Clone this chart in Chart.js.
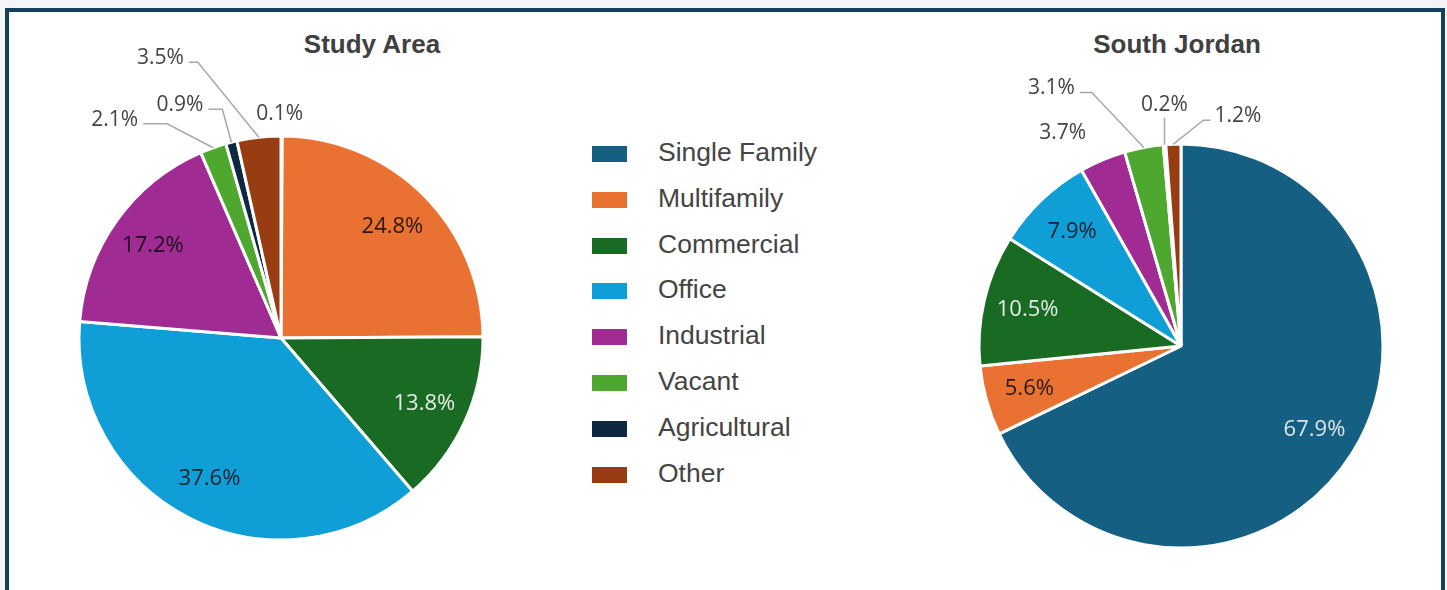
<!DOCTYPE html>
<html>
<head>
<meta charset="utf-8">
<script src="https://cdn.jsdelivr.net/npm/chart.js@4.4.1/dist/chart.umd.min.js"></script>
<style>
  body { margin: 0; background: #f3f5f6; }
  #page { position: relative; width: 1447px; height: 590px; overflow: hidden; }
  #frame { position: absolute; left: 5px; top: 8px; width: 1432px; height: 600px; border: 4px solid #12405d; background: #fff; }
  .title { position: absolute; top: 29px; width: 300px; text-align: center; font: bold 26px "Liberation Sans", Arial, sans-serif; color: #404040; }
  #legend { position: absolute; left: 592px; top: 131px; }
  .row { position: absolute; left: 0; height: 46px; width: 300px; }
  .box { position: absolute; left: 0; top: 15px; width: 35px; height: 16px; }
  .lbl { position: absolute; left: 66px; top: 6px; font: 26.5px "Liberation Sans", Arial, sans-serif; color: #444; white-space: nowrap; }
  canvas { position: absolute; }
</style>
</head>
<body>
<div id="page">
  <div id="frame"></div>
  <div class="title" style="left:222px">Study Area</div>
  <div class="title" style="left:1027px">South Jordan</div>
  <div id="legend"></div>
  <canvas id="studyChart" style="left:0px;top:0px;width:562px;height:590px"></canvas>
  <canvas id="jordanChart" style="left:921px;top:0px;width:520px;height:590px"></canvas>
</div>
<script>
const categories = ['Single Family', 'Multifamily', 'Commercial', 'Office', 'Industrial', 'Vacant', 'Agricultural', 'Other'];
const studyAreaValues = [0.1, 24.8, 13.8, 37.6, 17.2, 2.1, 0.9, 3.5];
const southJordanValues = [67.9, 5.6, 10.5, 7.9, 3.7, 3.1, 0.2, 1.2];

const colors = ['#156082', '#e97132', '#196b24', '#0f9ed5', '#a02b93', '#4ea72e', '#0e2841', '#983c12'];
const insideText = ['#dfe6ea', '#2a1a10', '#e6ece6', '#0e2230', '#1e0c1c', '#222', '#eee', '#eee'];

// outside labels: offsets from the slice's outer edge midpoint
const studyCallouts = {
  0: { tx: -2, ty: -22 },
  5: { ex: -46, ey: -24, run: -24 },
  6: { ex: -9, ey: -33, run: -14 },
  7: { ex: -61, ey: -75, run: -9 }
};
const jordanCallouts = {
  4: { tx: -40, ty: -27 },
  5: { ex: -52, ey: -55, run: -12 },
  6: { ex: 0, ey: -27, run: 0, above: true },
  7: { ex: 30, ey: -24, run: 7 }
};

// legend
const legendEl = document.getElementById('legend');
categories.forEach((c, i) => {
  const row = document.createElement('div');
  row.className = 'row';
  row.style.top = (i * 45.8) + 'px';
  row.innerHTML = `<div class="box" style="background:${colors[i]}"></div><div class="lbl">${c}</div>`;
  legendEl.appendChild(row);
});

const labelPlugin = {
  id: 'sliceLabels',
  afterDatasetsDraw(chart) {
    const ctx = chart.ctx;
    const callouts = chart.options.plugins.sliceLabels.callouts;
    const values = chart.data.datasets[0].data;
    const meta = chart.getDatasetMeta(0);
    ctx.save();
    meta.data.forEach((arc, i) => {
      const { x, y, startAngle, endAngle, outerRadius } = arc.getProps(['x', 'y', 'startAngle', 'endAngle', 'outerRadius'], true);
      const mid = (startAngle + endAngle) / 2;
      const text = values[i].toFixed(1) + '%';
      const co = callouts[i];
      if (!co) {
        const r = outerRadius * 0.78;
        ctx.font = '22px "Open Sans", sans-serif';
        ctx.fillStyle = insideText[i];
        ctx.textAlign = 'center';
        ctx.textBaseline = 'middle';
        ctx.fillText(text, x + Math.cos(mid) * r, y + Math.sin(mid) * r);
        return;
      }
      ctx.font = '21px "Open Sans", sans-serif';
      const edgeX = x + Math.cos(mid) * outerRadius;
      const edgeY = y + Math.sin(mid) * outerRadius;
      ctx.fillStyle = '#444';
      ctx.textBaseline = 'middle';
      if (co.ex === undefined) {
        ctx.textAlign = 'center';
        ctx.fillText(text, edgeX + co.tx, edgeY + co.ty);
        return;
      }
      const elX = edgeX + co.ex, elY = edgeY + co.ey;
      const endX = elX + co.run;
      ctx.strokeStyle = '#a8a8a8';
      ctx.lineWidth = 1.5;
      ctx.beginPath();
      ctx.moveTo(edgeX, edgeY);
      ctx.lineTo(elX, elY);
      ctx.lineTo(endX, elY);
      ctx.stroke();
      if (co.above) {
        ctx.textAlign = 'center';
        ctx.fillText(text, endX, elY - 13);
      } else if (co.run < 0) {
        ctx.textAlign = 'right';
        ctx.fillText(text, endX - 5, elY - 4);
      } else {
        ctx.textAlign = 'left';
        ctx.fillText(text, endX + 4, elY - 4);
      }
    });
    ctx.restore();
  }
};

function makePie(id, values, callouts, padTop) {
  return new Chart(document.getElementById(id), {
    type: 'pie',
    data: {
      labels: categories,
      datasets: [{
        data: values,
        backgroundColor: colors,
        borderColor: '#ffffff',
        borderWidth: 3
      }]
    },
    options: {
      responsive: false,
      animation: false,
      events: [],
      radius: 202,
      layout: { padding: { top: padTop } },
      plugins: {
        legend: { display: false },
        tooltip: { enabled: false },
        sliceLabels: { callouts: callouts }
      }
    },
    plugins: [labelPlugin]
  });
}

function setSize(id, w, h) {
  const c = document.getElementById(id);
  c.width = w; c.height = h;
}
setSize('studyChart', 562, 590);
setSize('jordanChart', 520, 590);
makePie('studyChart', studyAreaValues, studyCallouts, 86);
makePie('jordanChart', southJordanValues, jordanCallouts, 102);
</script>
</body>
</html>
